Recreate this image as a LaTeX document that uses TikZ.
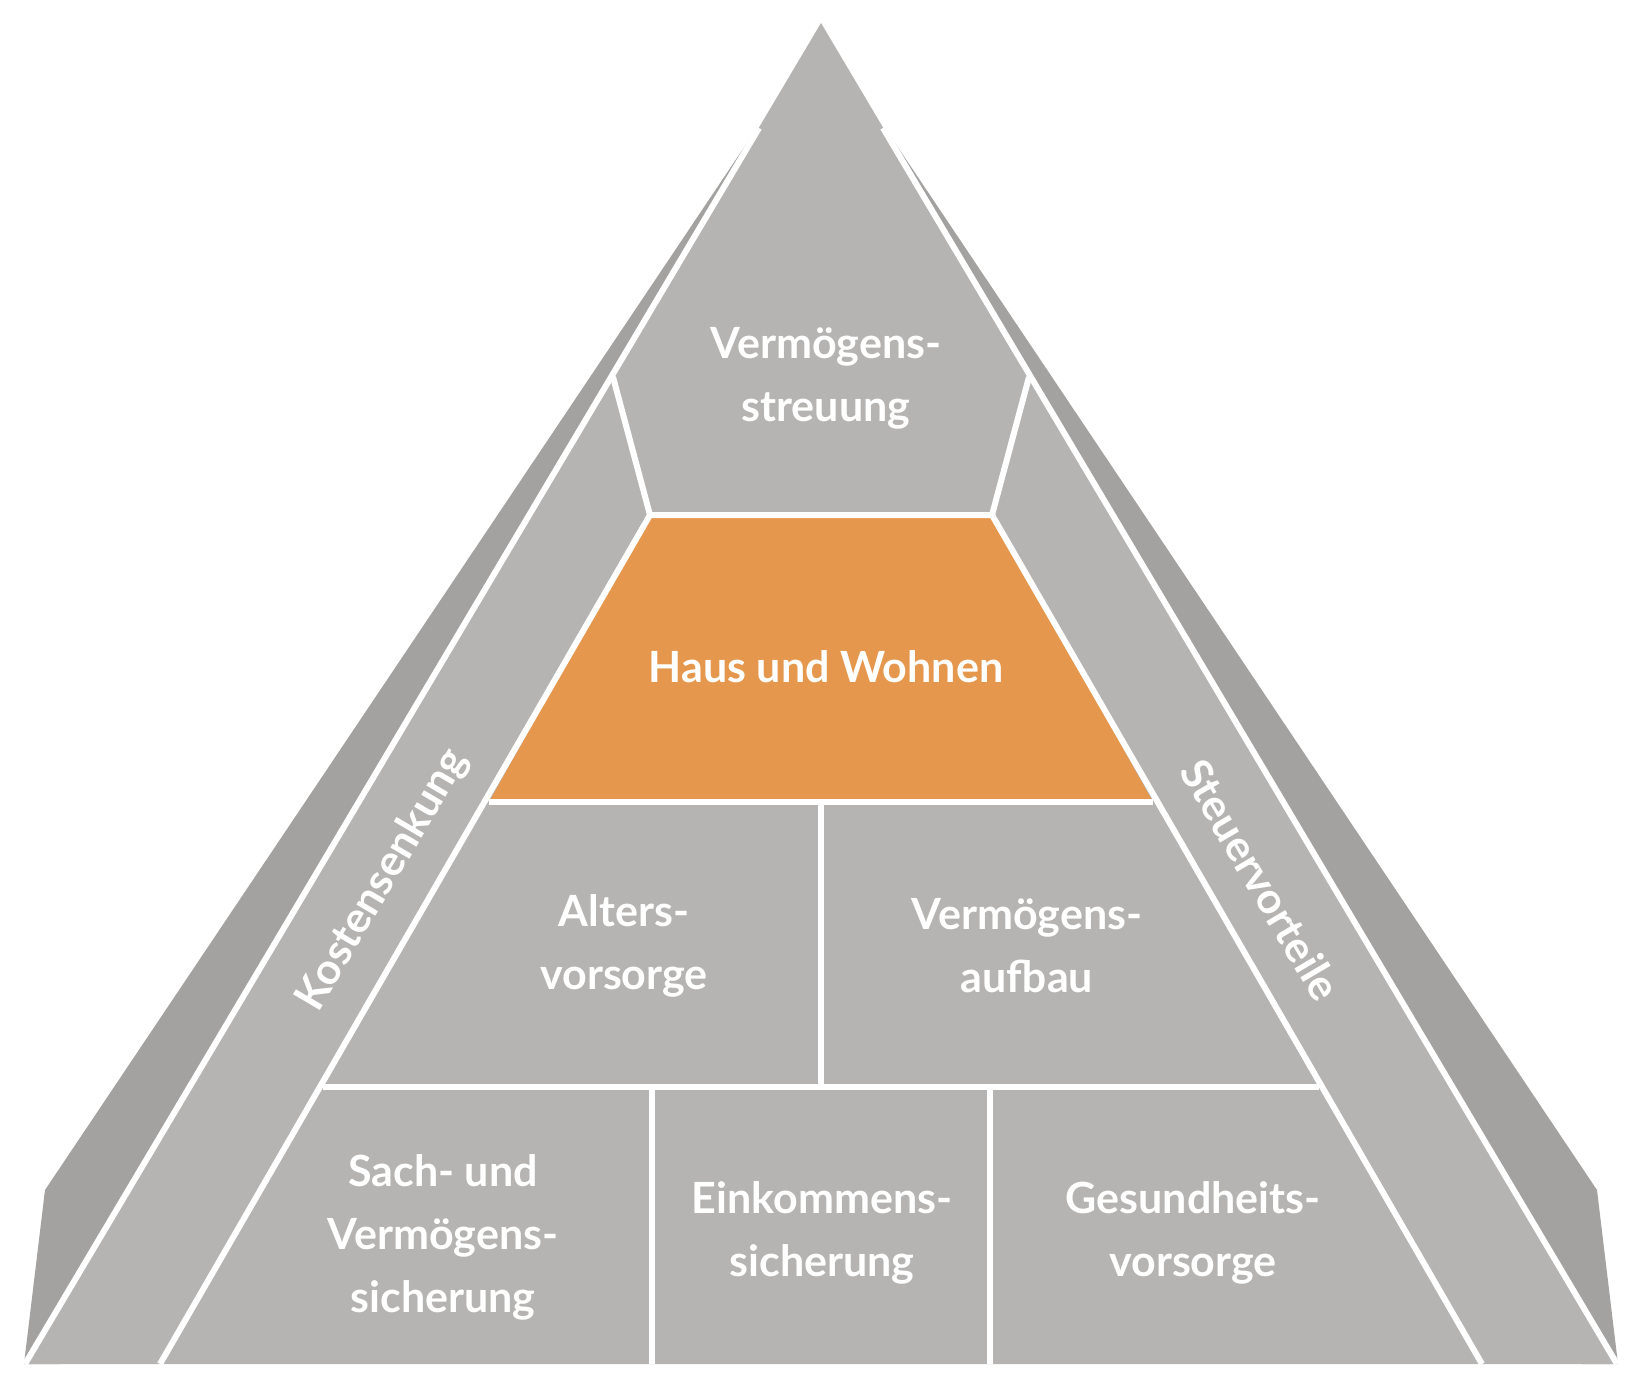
\documentclass[tikz,border=0pt]{standalone}
\usepackage{fontspec}
\setmainfont{Lato}
\definecolor{lg}{HTML}{B5B4B2}
\definecolor{dg}{HTML}{A3A2A0}
\definecolor{og}{HTML}{E5984D}
\begin{document}
\begin{tikzpicture}[x=1pt,y=-1pt,
  wl/.style={draw=white,line width=6pt},
  lbl/.style={text=white,font=\fontsize{43}{63}\selectfont\bfseries,align=center}]
\useasboundingbox (0,0) rectangle (1643,1386);
\fill[dg] (757,128) -- (45,1190) -- (24,1364) -- (60,1364) -- cycle;
\fill[dg] (885,128) -- (1597,1190) -- (1618,1364) -- (1582,1364) -- cycle;
\fill[lg] (821,23) -- (25,1364) -- (1617,1364) -- cycle;
\fill[og] (650,515) -- (992,515) -- (1153,802) -- (489,802) -- cycle;
\draw[wl] (759,128) -- (25,1364);
\draw[wl] (883,128) -- (1617,1364);
\draw[wl] (613,377) -- (650,515) -- (992,515) -- (1029,377);
\draw[wl] (650,515) -- (160,1364);
\draw[wl] (992,515) -- (1482,1364);
\draw[wl] (489,802) -- (1153,802);
\draw[wl] (323,1087) -- (1319,1087);
\draw[wl] (821,802) -- (821,1087);
\draw[wl] (652,1087) -- (652,1364);
\draw[wl] (990,1087) -- (990,1364);
\node[lbl] (a) at (826,378) {Vermögens-\\streuung};
\node[lbl] (b) at (826,667) {Haus und Wohnen};
\node[lbl] (c) at (624,946) {Alters-\\vorsorge};
\node[lbl] (d) at (1027,946) {Vermögens-\\aufbau};
\node[lbl] (e) at (443,1237) {Sach- und\\Vermögens-\\sicherung};
\node[lbl] (f) at (822,1233) {Einkommens-\\sicherung};
\node[lbl] (g) at (1193,1233) {Gesundheits-\\vorsorge};
\node[lbl,rotate=59.5] (k) at (383,880) {Kostensenkung};
\node[lbl,rotate=-59.5] (s) at (1261,880) {Steuervorteile};
\end{tikzpicture}
\end{document}
